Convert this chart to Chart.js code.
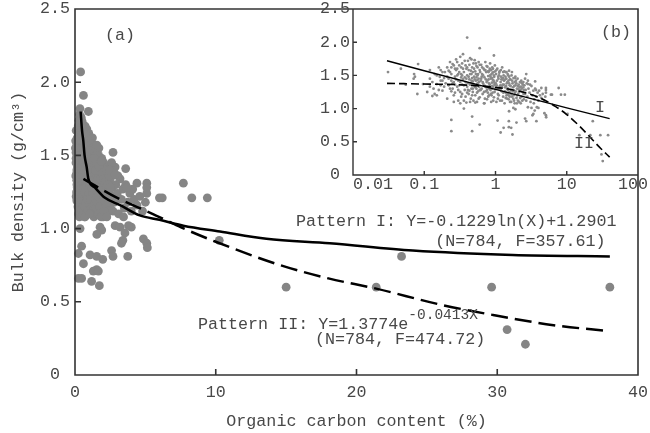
<!DOCTYPE html>
<html>
<head>
<meta charset="utf-8">
<script src="https://cdn.jsdelivr.net/npm/chart.js@4.4.1/dist/chart.umd.min.js"></script>
<style>
  html, body { margin: 0; padding: 0; background: #fff; }
  #wrap { position: relative; width: 650px; height: 433px; }
  #main { position: absolute; left: 0; top: 0; }
  #inset { position: absolute; left: 300px; top: 0; }
</style>
</head>
<body>
<div id="wrap">
  <canvas id="main" width="650" height="433"></canvas>
  <canvas id="inset" width="350" height="200"></canvas>
</div>
<script>
const FONT = '"Liberation Mono", "Courier New", monospace';
const INK = '#333';
const TEXT = '#484848';

// soil samples, dense part (organic carbon %, bulk density g/cm3)
const coreCarbon = [
  0.031,0.047,0.072,0.071,0.082,0.080,0.096,0.074,0.055,0.130,
  0.150,0.120,0.140,0.160,0.170,0.180,0.190,0.135,0.165,0.195,
  0.21,0.22,0.23,0.24,0.25,0.25,0.26,0.27,0.28,0.28,
  0.29,0.30,0.30,0.31,0.32,0.32,0.33,0.33,0.34,0.35,
  0.22,0.24,0.26,0.27,0.29,0.31,0.33,0.34,0.23,0.35,
  0.36,0.37,0.38,0.38,0.39,0.40,0.40,0.41,0.42,0.42,
  0.43,0.44,0.44,0.45,0.46,0.46,0.47,0.48,0.48,0.49,
  0.50,0.50,0.51,0.52,0.52,0.53,0.54,0.54,0.55,0.56,
  0.56,0.57,0.58,0.58,0.59,0.60,0.60,0.37,0.39,0.41,
  0.43,0.45,0.47,0.49,0.53,
  0.62,0.63,0.64,0.65,0.66,0.67,0.68,0.69,0.70,0.71,
  0.72,0.73,0.74,0.75,0.76,0.77,0.78,0.79,0.80,0.81,
  0.82,0.83,0.84,0.85,0.86,0.87,0.88,0.89,0.90,0.91,
  0.92,0.93,0.94,0.95,0.96,0.97,0.98,0.99,0.64,0.68,
  0.72,0.78,0.84,0.90,0.96,
  1.02,1.04,1.06,1.08,1.10,1.12,1.14,1.16,1.18,1.20,
  1.22,1.24,1.26,1.28,1.30,1.32,1.34,1.36,1.38,1.40,
  1.42,1.44,1.46,1.48,1.50,1.52,1.54,1.56,1.58,1.60,
  1.05,1.15,1.25,1.35,1.45,1.55,1.08,1.28,1.48,1.12,
  1.62,1.65,1.68,1.70,1.73,1.76,1.79,1.82,1.85,1.88,
  1.91,1.94,1.97,2.00,2.04,2.08,2.12,2.16,2.20,2.24,
  2.28,2.32,2.36,2.40,2.45,2.50,1.70,1.80,1.90,2.10,
  2.30,2.00,
  2.55,2.60,2.65,2.70,2.75,2.80,2.90,3.00,3.10,3.20,
  3.30,3.40,3.50,3.60,3.75,3.90,4.00,4.20,4.40,4.60,
  4.80,5.00,2.85,3.05,2.60,3.45,4.10,5.10,
  0.11,0.12,0.13,0.14,0.15,0.16,0.17,0.18,0.19,0.20,
  0.21,0.22,0.23,0.24,0.25,0.26,0.27,0.28,0.29,0.30,
  0.12,0.15,0.18,0.21,0.24,0.27,0.30,0.17,0.26,0.29,
  0.31,0.32,0.33,0.34,0.35,0.36,0.37,0.38,0.39,0.40,
  0.41,0.42,0.43,0.44,0.45,0.46,0.47,0.48,0.49,0.50,
  0.51,0.52,0.53,0.54,0.55,0.56,0.57,0.58,0.59,0.60,
  0.32,0.36,0.40,0.44,0.48,0.52,0.56,0.60,0.34,0.46,
  0.61,0.62,0.63,0.65,0.66,0.67,0.69,0.70,0.71,0.73,
  0.74,0.75,0.77,0.78,0.79,0.81,0.82,0.83,0.85,0.86,
  0.87,0.89,0.90,0.91,0.93,0.94,0.95,0.97,0.98,0.99,
  0.70,0.76,0.80,0.88,0.92,
  1.01,1.03,1.07,1.09,1.11,1.13,1.17,1.19,1.21,1.23,
  1.27,1.29,1.31,1.33,1.37,1.39,1.41,1.43,1.47,1.49,
  1.51,1.53,1.57,1.59,1.03,1.23,1.43,1.18,1.38,1.58,
  1.63,1.67,1.71,1.75,1.78,1.83,1.87,1.92,1.96,2.02,
  2.06,2.14,2.18,2.22,2.26,2.34,2.38,2.42,2.48,2.52,
  1.66,1.86,2.06,2.26,2.46
];
const coreDensity = [
  1.55,1.60,1.52,1.45,1.67,1.22,1.37,1.48,1.36,1.19,
  1.37,1.45,1.52,1.28,1.58,1.42,1.33,1.30,1.48,1.55,
  1.62,1.45,1.30,1.52,1.67,1.38,1.20,1.48,1.74,1.58,
  1.33,1.42,1.12,1.55,1.78,1.25,1.47,1.62,1.36,1.82,
  1.57,1.26,1.40,1.60,1.50,1.35,1.18,1.68,1.70,1.44,
  1.55,1.28,1.65,1.40,1.09,1.50,1.33,1.72,1.22,1.58,
  1.44,1.36,1.76,1.15,1.52,1.30,1.62,1.41,1.25,1.68,
  1.48,1.35,1.73,1.20,1.56,1.42,1.30,1.64,1.10,1.50,
  1.38,1.26,1.70,1.45,1.33,1.58,1.17,1.47,1.60,1.38,
  1.27,1.57,1.46,1.12,1.52,
  1.42,1.66,1.30,1.52,1.22,1.38,1.60,1.08,1.47,1.34,
  1.70,1.26,1.55,1.40,1.14,1.63,1.32,1.49,1.44,1.20,
  1.57,1.36,1.68,1.28,1.45,1.10,1.52,1.39,1.62,1.24,
  1.43,1.33,1.55,1.17,1.48,1.37,1.65,1.29,1.48,1.35,
  1.58,1.24,1.50,1.34,1.40,
  1.52,1.35,1.60,1.22,1.45,1.30,1.56,1.12,1.40,1.48,
  1.26,1.62,1.36,1.18,1.50,1.42,1.08,1.32,1.55,1.24,
  1.45,1.38,1.15,1.52,1.30,1.42,1.20,1.48,1.35,1.10,
  1.42,1.33,1.44,1.26,1.30,1.38,1.15,1.55,1.22,1.50,
  1.44,1.28,1.50,1.18,1.38,1.32,1.46,1.12,1.40,1.24,
  1.35,1.42,1.16,1.30,1.45,1.22,1.36,1.10,1.40,1.28,
  1.33,1.18,1.38,1.25,1.32,1.14,1.55,1.20,1.48,1.29,
  1.42,1.08,
  1.35,1.22,1.28,1.12,1.38,1.18,1.30,1.24,1.10,1.34,
  1.20,1.27,1.14,1.30,1.18,1.24,1.12,1.20,1.16,1.22,
  1.12,1.18,1.42,1.36,1.45,1.08,1.27,1.24,
  1.25,1.58,1.40,1.22,1.50,1.62,1.35,1.27,1.46,1.38,
  1.15,1.35,1.55,1.42,1.30,1.65,1.24,1.44,1.70,1.52,
  1.33,1.20,1.55,1.48,1.62,1.36,1.28,1.42,1.10,1.60,
  1.65,1.40,1.52,1.22,1.60,1.35,1.72,1.18,1.45,1.62,
  1.28,1.48,1.66,1.52,1.38,1.74,1.20,1.55,1.36,1.60,
  1.44,1.32,1.68,1.47,1.24,1.62,1.52,1.15,1.40,1.66,
  1.08,1.12,1.24,1.10,1.30,1.09,1.43,1.28,1.50,1.42,
  1.55,1.28,1.45,1.62,1.40,1.50,1.25,1.58,1.15,1.44,
  1.32,1.64,1.42,1.56,1.18,1.38,1.30,1.60,1.48,1.22,
  1.58,1.30,1.46,1.54,1.12,1.42,1.50,1.25,1.36,1.56,
  1.08,1.28,1.55,1.20,1.60,
  1.38,1.58,1.30,1.48,1.20,1.54,1.35,1.58,1.44,1.12,
  1.46,1.24,1.36,1.56,1.44,1.16,1.34,1.55,1.40,1.28,
  1.50,1.14,1.25,1.44,1.10,1.33,1.20,1.28,1.48,1.18,
  1.34,1.22,1.42,1.26,1.15,1.34,1.46,1.26,1.38,1.20,
  1.34,1.25,1.32,1.16,1.40,1.30,1.12,1.36,1.22,1.28,
  1.10,1.08,1.12,1.08,1.40
];

// soil samples away from the dense part
const outerCarbon = [
  0.40,0.60,0.95,1.55,2.70,3.60,2.85,4.40,5.10,5.10,
  3.70,7.70,6.20,6.00,8.30,9.40,10.25,4.86,5.10,5.14,
  3.55,3.40,3.30,4.00,3.80,2.85,3.20,1.78,1.90,0.36,
  1.55,0.47,0.24,1.07,1.54,1.97,2.60,2.70,3.75,0.60,
  1.30,1.54,1.66,0.24,0.47,1.18,1.73,15.0,21.4,23.2,
  29.6,30.7,32.0,38.0
];
const outerDensity = [
  2.07,1.91,1.80,1.57,1.52,1.41,1.37,1.31,1.31,1.28,
  1.28,1.31,1.21,1.21,1.21,1.21,0.92,0.93,0.90,0.87,
  0.97,0.92,0.90,1.01,1.02,1.02,1.01,1.01,0.99,1.00,
  0.96,0.88,0.83,0.82,0.81,0.79,0.85,0.81,0.81,0.76,
  0.71,0.72,0.71,0.66,0.66,0.64,0.61,0.60,0.60,0.81,
  0.60,0.31,0.21,0.60
];

// fitted curves
const fitIX = [0.40,0.50,0.59,0.68,0.83,0.95,1.42,2.13,3.2,4.6,6.0,7.7,10.3,13.6,18.1,24,31.1,38];
const fitIY = [1.80,1.67,1.60,1.50,1.42,1.34,1.28,1.21,1.16,1.09,1.06,1.02,0.98,0.93,0.90,0.85,0.82,0.81];
const fitIIX = [0.6,3.0,4.6,6.2,7.5,10,14.6,18,21.4,26,29.7,34,38];
const fitIIY = [1.34,1.21,1.14,1.07,1.01,0.91,0.75,0.66,0.59,0.48,0.41,0.34,0.30];

// fitted curves, log x
const logIX = [0.03,0.1,1,10,40];
const logIY = [1.72,1.57,1.29,1.01,0.85];
const logIIX = [0.03,0.1,0.3,1,2,4,7,10,15,20,30,40];
const logIIY = [1.38,1.37,1.36,1.32,1.27,1.17,1.03,0.91,0.74,0.60,0.40,0.27];

const yTicks = [0, 0.5, 1, 1.5, 2, 2.5];
const xTicks = [0, 10, 20, 30, 40];
const insetXTicks = [0.01, 0.1, 1, 10, 100];
const insetXLabels = ['    0.01', '0.1', '1', '10', '100 '];

function pairs(xs, ys) {
  return xs.map((x, i) => ({ x: x, y: ys[i] }));
}
const samples = pairs(coreCarbon, coreDensity).concat(pairs(outerCarbon, outerDensity));

const font = { family: FONT, size: 16.7 };
const yLabel = v => (v === 0 ? '0' : v.toFixed(1));

// box / inner tick marks / text notes
const frame = {
  id: 'frame',
  afterDatasetsDraw(chart, args, o) {
    const ctx = chart.ctx, a = chart.chartArea;
    const sx = chart.scales.x, sy = chart.scales.y;
    ctx.save();
    ctx.strokeStyle = INK;
    ctx.lineWidth = o.width;
    ctx.beginPath();
    if (o.box) {
      ctx.rect(a.left, a.top, a.right - a.left, a.bottom - a.top);
    } else {
      ctx.moveTo(a.left, a.top);
      ctx.lineTo(a.left, a.bottom);
      ctx.lineTo(a.right, a.bottom);
    }
    o.xMarks.forEach(v => {
      const p = sx.getPixelForValue(v);
      ctx.moveTo(p, a.bottom);
      ctx.lineTo(p, a.bottom - o.len);
    });
    o.yMarks.forEach(v => {
      const p = sy.getPixelForValue(v);
      ctx.moveTo(a.left, p);
      ctx.lineTo(a.left + o.len, p);
    });
    ctx.stroke();

    ctx.fillStyle = TEXT;
    ctx.textBaseline = 'middle';
    o.notes.forEach(n => {
      ctx.font = font.size + 'px ' + FONT;
      ctx.textAlign = n.align || 'left';
      const px = sx.getPixelForValue(n.x);
      const py = sy.getPixelForValue(n.y);
      ctx.fillText(n.text, px, py);
      if (n.sup) {
        const w = ctx.measureText(n.text).width;
        ctx.font = '14.5px ' + FONT;
        ctx.fillText(n.sup, px + w, py - 10);
      }
    });
    ctx.restore();
  }
};

new Chart(document.getElementById('main'), {
  type: 'scatter',
  data: {
    datasets: [
      { data: pairs(fitIX, fitIY), showLine: true, borderColor: '#000', borderWidth: 2.5,
        pointRadius: 0, cubicInterpolationMode: 'monotone', order: 1 },
      { data: pairs(fitIIX, fitIIY), showLine: true, borderColor: '#000', borderWidth: 2.5,
        borderDash: [17, 7], pointRadius: 0, cubicInterpolationMode: 'monotone', order: 1 },
      { data: samples, pointRadius: 4.4, pointBackgroundColor: '#858585', pointBorderWidth: 0,
        clip: false, order: 2 }
    ]
  },
  options: {
    responsive: false,
    animation: false,
    devicePixelRatio: 1,
    layout: { padding: { top: 9, right: 12, left: 0, bottom: 0 } },
    plugins: {
      legend: { display: false },
      tooltip: { enabled: false },
      frame: {
        box: true, width: 1.6, len: 6,
        xMarks: [10, 20, 30], yMarks: [0.5, 1, 1.5, 2],
        notes: [
          { text: '(a)', x: 3.2, y: 2.32, align: 'center' },
          { text: 'Pattern I: Y=-0.1229ln(X)+1.2901', x: 15.7, y: 1.045 },
          { text: '(N=784, F=357.61)', x: 25.6, y: 0.908 },
          { text: 'Pattern II: Y=1.3774e', sup: '-0.0413X', x: 8.74, y: 0.342 },
          { text: '(N=784, F=474.72)', x: 17.05, y: 0.239 }
        ]
      }
    },
    scales: {
      x: {
        type: 'linear', min: 0, max: 40,
        afterBuildTicks: s => { s.ticks = xTicks.map(v => ({ value: v })); },
        grid: { display: false, drawTicks: false },
        border: { display: false },
        ticks: { font: font, color: TEXT, padding: 8, maxRotation: 0, autoSkip: false,
                 callback: v => String(v) },
        title: { display: true, text: 'Organic carbon content (%)', font: font, color: TEXT,
                 padding: { top: 0, bottom: 1 } },
        afterFit: s => { s.height = 58; s.paddingLeft = 0; s.paddingRight = 0; }
      },
      y: {
        min: 0, max: 2.5,
        afterBuildTicks: s => { s.ticks = yTicks.map(v => ({ value: v })); },
        grid: { display: false, drawTicks: false },
        border: { display: false },
        ticks: { font: font, color: TEXT, padding: 5, crossAlign: 'center', autoSkip: false,
                 callback: yLabel },
        title: { display: true, text: 'Bulk density (g/cm³)', font: font, color: TEXT,
                 padding: { top: 9, bottom: 0 } },
        afterFit: s => { s.width = 75; s.paddingTop = 0; s.paddingBottom = 0; }
      }
    }
  },
  plugins: [frame]
});

new Chart(document.getElementById('inset'), {
  type: 'scatter',
  data: {
    datasets: [
      { data: pairs(logIX, logIY), showLine: true, borderColor: '#000', borderWidth: 1.4,
        pointRadius: 0, order: 1 },
      { data: pairs(logIIX, logIIY), showLine: true, borderColor: '#000', borderWidth: 1.6,
        borderDash: [8, 4], pointRadius: 0, cubicInterpolationMode: 'monotone', order: 1 },
      { data: samples, pointRadius: 1.4, pointBackgroundColor: '#8a8a8a', pointBorderWidth: 0,
        order: 2 }
    ]
  },
  options: {
    responsive: false,
    animation: false,
    devicePixelRatio: 1,
    layout: { padding: { top: 9, right: 12, left: 0, bottom: 0 } },
    plugins: {
      legend: { display: false },
      tooltip: { enabled: false },
      frame: {
        box: false, width: 1.4, len: 4,
        xMarks: [0.1, 1, 10], yMarks: [0.5, 1, 1.5, 2],
        notes: [
          { text: '(b)', x: 49, y: 2.14, align: 'center' },
          { text: 'I', x: 29.3, y: 1.02, align: 'center' },
          { text: 'II', x: 17.5, y: 0.47, align: 'center' }
        ]
      }
    },
    scales: {
      x: {
        type: 'logarithmic', min: 0.01, max: 100,
        afterBuildTicks: s => { s.ticks = insetXTicks.map(v => ({ value: v })); },
        grid: { display: false, drawTicks: false },
        border: { display: false },
        ticks: { font: font, color: TEXT, padding: 0, maxRotation: 0, autoSkip: false,
                 callback: (v, i) => insetXLabels[i] },
        afterFit: s => { s.height = 25; s.paddingLeft = 0; s.paddingRight = 0; }
      },
      y: {
        min: 0, max: 2.5,
        afterBuildTicks: s => { s.ticks = yTicks.map(v => ({ value: v })); },
        grid: { display: false, drawTicks: false },
        border: { display: false },
        ticks: { font: font, color: TEXT, padding: 3, crossAlign: 'center', autoSkip: false,
                 callback: yLabel },
        afterFit: s => { s.width = 53; s.paddingTop = 0; s.paddingBottom = 0; }
      }
    }
  },
  plugins: [frame]
});
</script>
</body>
</html>
